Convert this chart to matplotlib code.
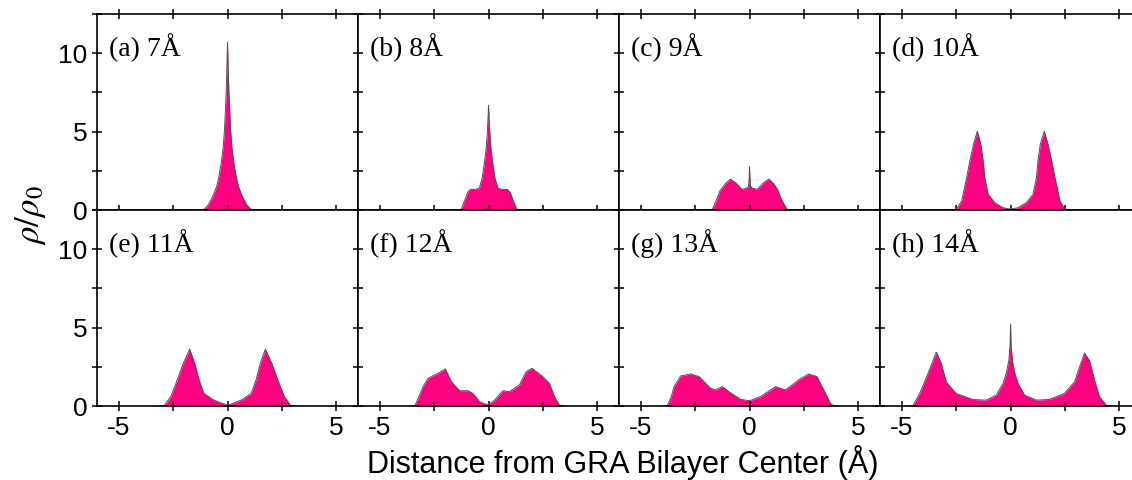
"""
Water density profiles between graphene bilayers of different spacing.
"""

import matplotlib
matplotlib.use("Agg")
import matplotlib.pyplot as plt
from matplotlib.ticker import MultipleLocator

# Panel labels (layer spacing)
labels = ["(a) 7Å", "(b) 8Å", "(c) 9Å", "(d) 10Å",
          "(e) 11Å", "(f) 12Å", "(g) 13Å", "(h) 14Å"]

# Density profiles rho/rho0
x_a = [-1.3, -1.1, -0.9, -0.7, -0.5, -0.4, -0.3, -0.2, -0.14, -0.07, -0.03, 0,
       0.03, 0.07, 0.14, 0.2, 0.3, 0.4, 0.5, 0.7, 0.9, 1.1, 1.3]
y_a = [0, 0.02, 0.3, 0.8, 1.5, 2.1, 2.9, 4.0, 5.1, 7.2, 9.0, 10.7,
       9.0, 7.2, 5.1, 4.0, 2.9, 2.1, 1.5, 0.8, 0.3, 0.02, 0]

x_b = [-1.4, -1.25, -1.1, -0.95, -0.85, -0.6, -0.42, -0.3, -0.2, -0.12, -0.06, -0.02, 0,
       0.02, 0.06, 0.12, 0.2, 0.3, 0.43, 0.6, 0.89, 1.0, 1.15, 1.3, 1.45]
y_b = [0, 0.05, 0.6, 1.15, 1.3, 1.32, 1.4, 2.0, 2.9, 3.8, 4.8, 6.0, 6.67,
       6.0, 4.8, 3.8, 2.9, 2.0, 1.4, 1.32, 1.3, 1.1, 0.55, 0.05, 0]

x_c = [-1.9, -1.72, -1.55, -1.35, -1.1, -0.88, -0.65, -0.35, -0.12, -0.05, -0.02, 0,
       0.02, 0.05, 0.12, 0.35, 0.65, 0.89, 1.1, 1.28, 1.5, 1.74, 1.9]
y_c = [0, 0.02, 0.55, 1.25, 1.7, 1.97, 1.75, 1.32, 1.4, 1.5, 1.9, 2.75,
       1.9, 1.5, 1.4, 1.32, 1.75, 1.97, 1.7, 1.32, 0.58, 0.02, 0]

x_d = [-3.0, -2.5, -2.25, -2.02, -1.87, -1.7, -1.53, -1.37, -1.26, -1.19, -1.03, -0.73, -0.35, 0,
       0.35, 0.73, 1.03, 1.19, 1.26, 1.37, 1.55, 1.72, 1.89, 2.04, 2.27, 2.5, 3.0]
y_d = [0, 0.02, 0.58, 2.07, 3.14, 4.2, 5.02, 4.2, 3.14, 2.07, 1.0, 0.47, 0.15, 0.05,
       0.15, 0.47, 1.0, 2.07, 3.14, 4.2, 5.02, 4.2, 3.14, 2.07, 0.58, 0.02, 0]

x_e = [-3.2, -2.92, -2.61, -2.31, -2.03, -1.74, -1.51, -1.31, -1.09, -0.63, 0,
       0.63, 1.09, 1.31, 1.51, 1.74, 2.03, 2.31, 2.61, 2.92, 3.2]
y_e = [0, 0.02, 0.6, 1.67, 2.74, 3.63, 2.74, 1.67, 0.81, 0.38, 0.05,
       0.38, 0.81, 1.67, 2.74, 3.63, 2.74, 1.67, 0.6, 0.02, 0]

x_f = [-3.6, -3.39, -3.2, -3.01, -2.78, -2.32, -1.99, -1.71, -1.33, -0.95, -0.72, -0.41, -0.14, 0,
       0.28, 0.66, 0.96, 1.42, 1.73, 2.0, 2.49, 2.8, 3.03, 3.26, 3.5]
y_f = [0, 0.02, 0.6, 1.24, 1.77, 2.09, 2.37, 1.56, 0.98, 0.98, 0.81, 0.28, 0.13, 0.1,
       0.38, 0.98, 0.92, 1.35, 2.2, 2.41, 1.88, 1.45, 0.6, 0.06, 0]

x_g = [-4.0, -3.78, -3.6, -3.47, -3.17, -2.71, -2.32, -1.79, -1.56, -1.25, -0.95, -0.41, 0,
       0.5, 1.19, 1.65, 2.26, 2.72, 3.1, 3.49, 3.72, 3.87, 4.1]
y_g = [0, 0.02, 0.6, 1.24, 1.92, 2.05, 1.88, 1.13, 1.03, 1.24, 0.92, 0.43, 0.34,
       0.6, 1.24, 1.03, 1.67, 2.05, 1.88, 0.81, 0.17, 0.02, 0]

x_h = [-4.8, -4.49, -4.18, -3.8, -3.41, -3.18, -2.96, -2.5, -1.73, -1.12, -0.66, -0.35, -0.2, -0.08,
       -0.02, 0, 0.02, 0.08, 0.2, 0.35, 0.64, 1.18, 1.78, 2.47, 2.94, 3.17, 3.4, 3.63, 3.86,
       4.09, 4.4, 4.7]
y_h = [0, 0.02, 0.8, 2.07, 3.44, 2.7, 1.54, 0.8, 0.42, 0.38, 0.7, 1.43, 2.07, 2.9,
       4.0, 5.23, 4.0, 2.9, 2.07, 1.43, 0.7, 0.38, 0.42, 0.8, 1.54, 2.49, 3.38, 2.9, 1.65,
       0.6, 0.06, 0]

profiles = [(x_a, y_a), (x_b, y_b), (x_c, y_c), (x_d, y_d),
            (x_e, y_e), (x_f, y_f), (x_g, y_g), (x_h, y_h)]


def main():
    plt.rcParams["font.family"] = "Liberation Sans"
    plt.rcParams["mathtext.fontset"] = "stix"
    plt.rcParams["axes.unicode_minus"] = False

    fig, axes = plt.subplots(2, 4, figsize=(11.32, 4.8), dpi=100, sharex=True, sharey=True)
    fig.subplots_adjust(left=0.0857, right=1.008, top=0.971, bottom=0.154, wspace=0, hspace=0)

    for ax, (xs, ys), lab in zip(axes.flat, profiles, labels):
        ax.fill_between(xs, ys, 0, color="#ff0080", lw=0)
        ax.plot(xs, ys, color="#505050", lw=0.7)
        ax.text(0.045, 0.83, lab, transform=ax.transAxes, va="center", ha="left",
                fontsize=20, family="Liberation Serif")
        ax.set_xlim(-6, 6)
        ax.set_ylim(0, 12.5)
        ax.xaxis.set_major_locator(MultipleLocator(5))
        ax.xaxis.set_minor_locator(MultipleLocator(2.5))
        ax.yaxis.set_major_locator(MultipleLocator(5))
        ax.yaxis.set_minor_locator(MultipleLocator(2.5))
        ax.tick_params(which="both", direction="inout", length=7, width=1.1,
                       labelsize=19, top=False, right=False)
        for sp in ax.spines.values():
            sp.set_linewidth(1.2)

    for ax in axes[0]:
        ax.tick_params(which="both", top=True)

    fig.text(0.027, 1 - 215 / 480, r"$\rho/\rho_0$", rotation=90, ha="center", va="center",
             fontsize=25)
    fig.text(0.55, 0.036, "Distance from GRA Bilayer Center (Å)", ha="center", va="center",
             fontsize=22)

    fig.savefig("out.png", dpi=100)
    plt.close(fig)


if __name__ == "__main__":
    main()
